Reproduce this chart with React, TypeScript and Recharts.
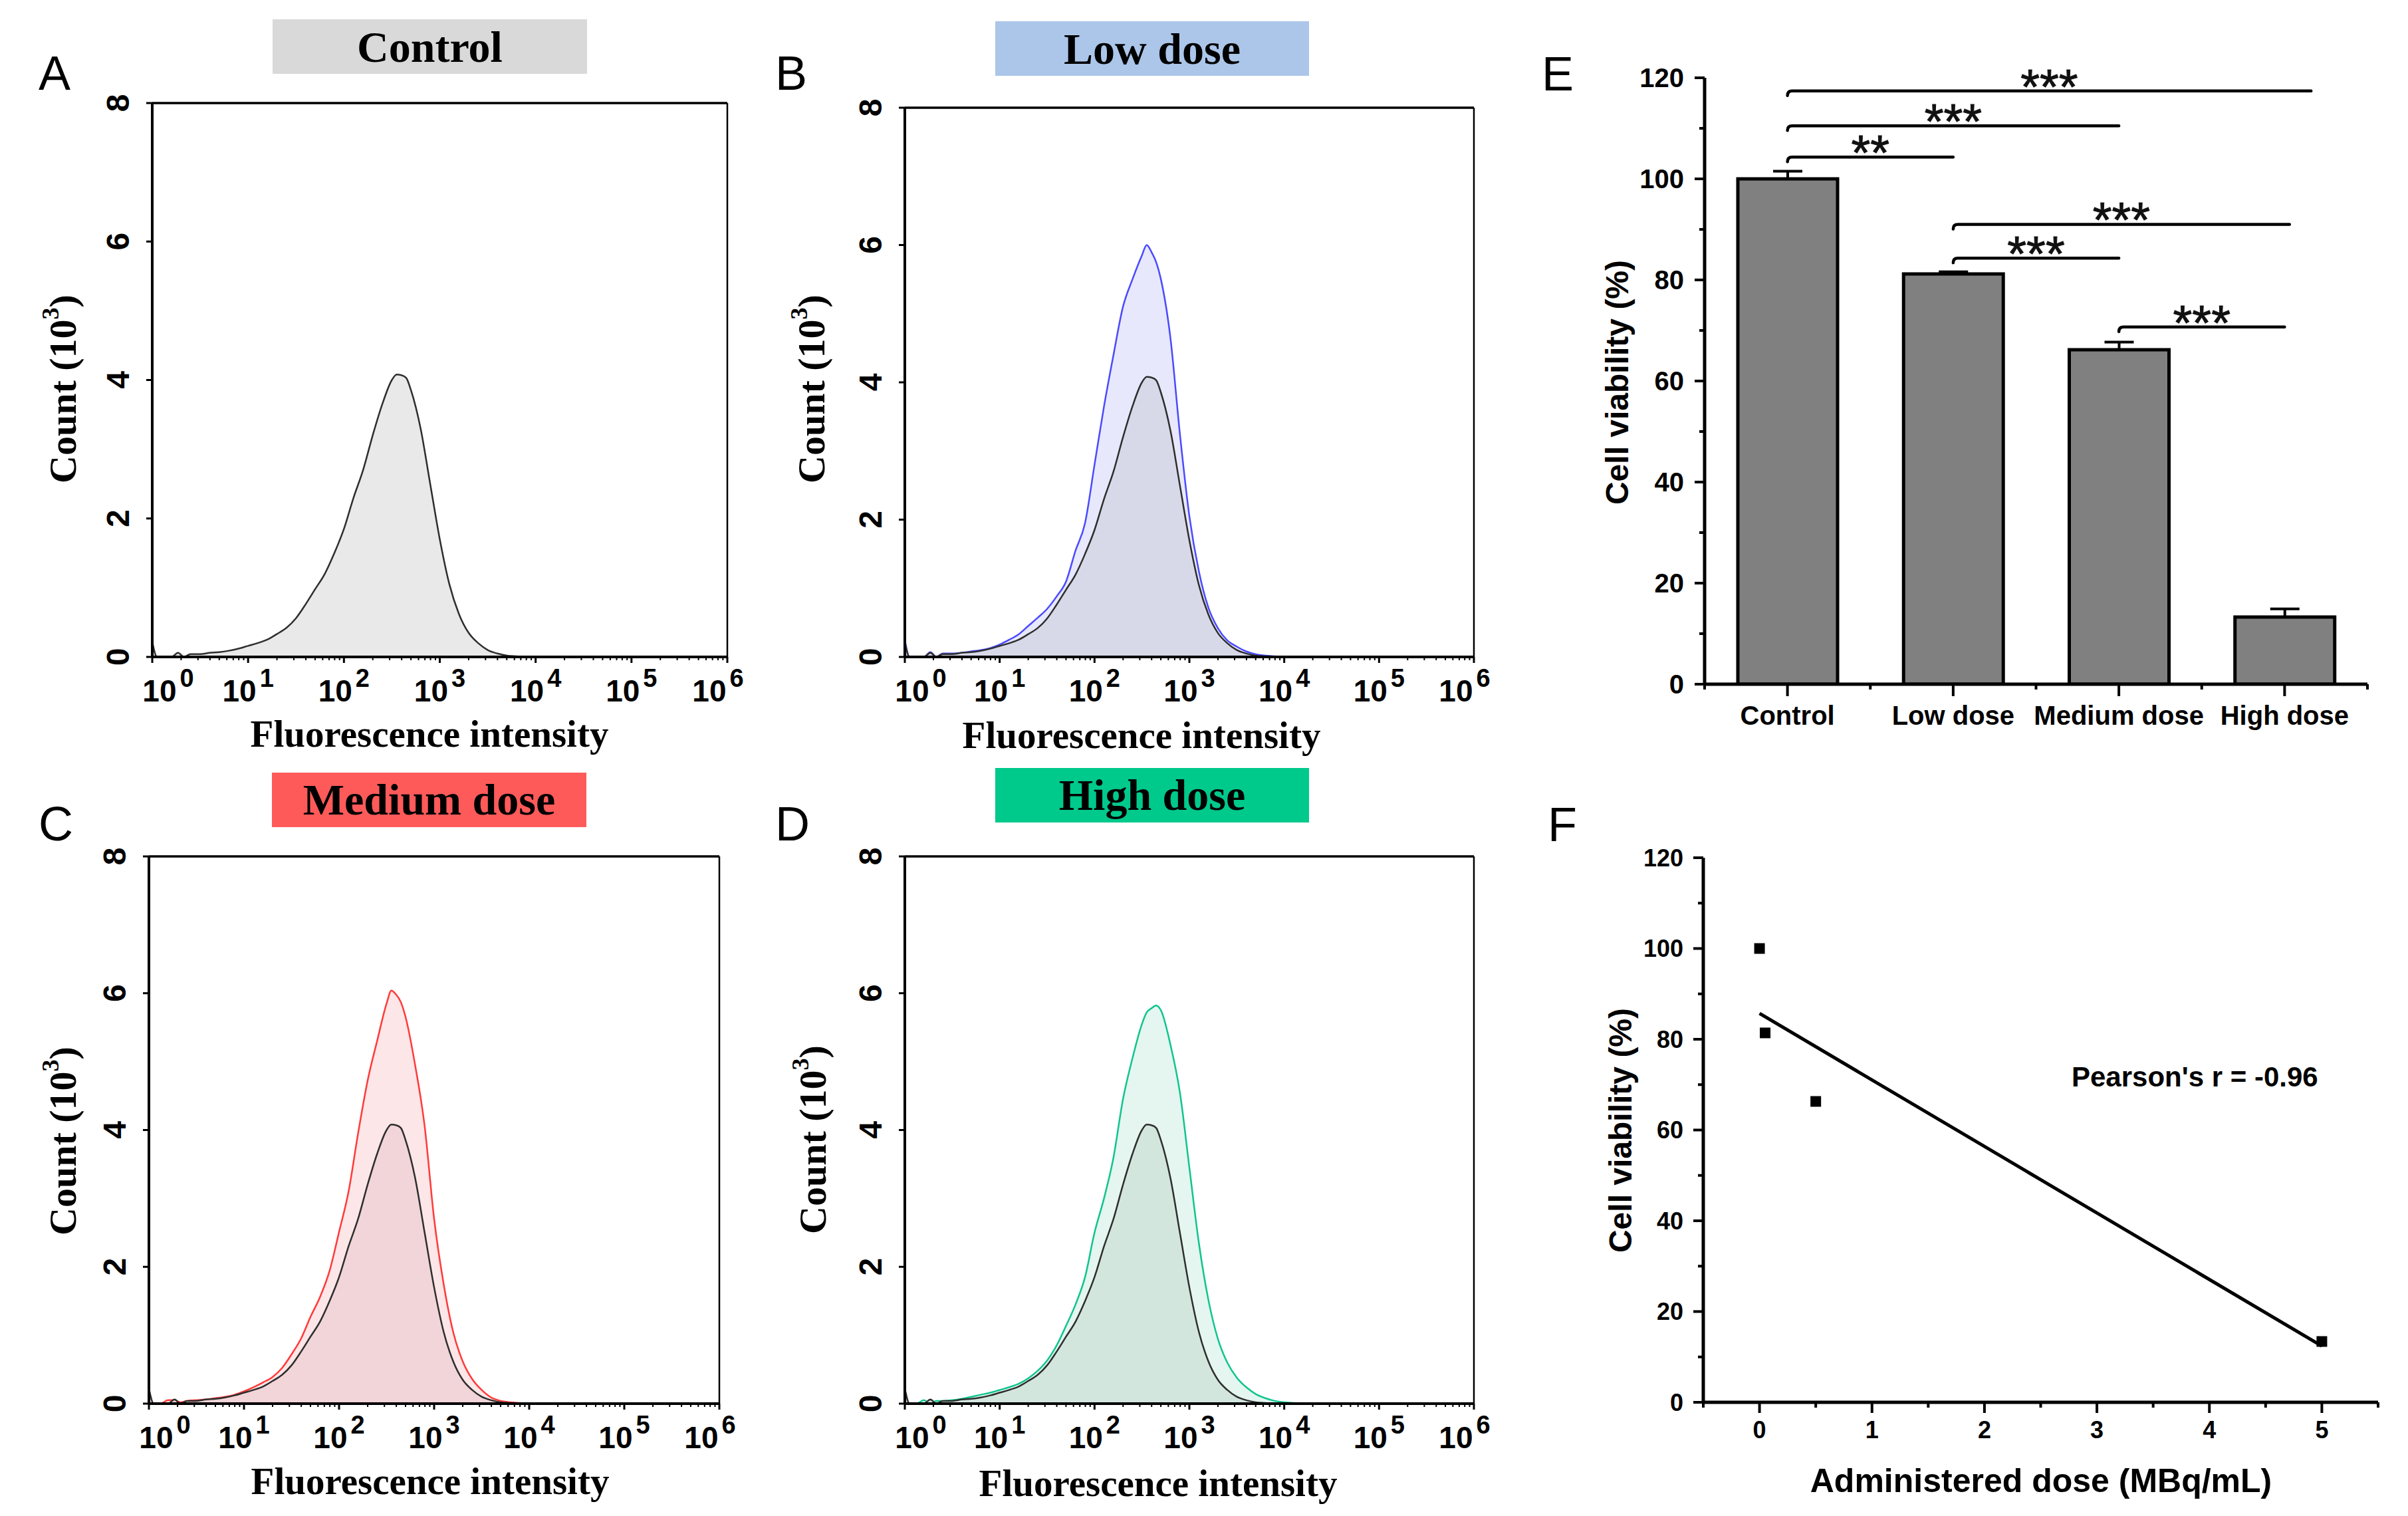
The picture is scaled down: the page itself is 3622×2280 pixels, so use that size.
import React from 'react';
import {
  ComposedChart,
  Area,
  XAxis,
  YAxis,
  ReferenceLine,
  Bar,
  ErrorBar,
  ScatterChart,
  Scatter,
} from 'recharts';

const SANS = '"Liberation Sans", Arial, Helvetica, sans-serif';
const SERIF = '"Liberation Serif", "Times New Roman", Times, serif';

// ---------- Flow cytometry histograms (x = log10 fluorescence intensity, y = count x10^3)
const logIntensity = [0, 0.05, 0.12, 0.2, 0.27, 0.33, 0.4, 0.5, 0.6, 0.7, 0.8, 0.9, 1.0, 1.1, 1.2, 1.3, 1.4, 1.5, 1.6, 1.7, 1.8, 1.9, 2.0, 2.1, 2.2, 2.3, 2.4, 2.5, 2.55, 2.6, 2.65, 2.7, 2.8, 2.9, 3.0, 3.1, 3.2, 3.3, 3.4, 3.5, 3.6, 3.7, 3.8, 3.9, 4.0, 4.2, 5.0, 6.0];
const controlCount = [0.22, 0, 0, 0, 0.06, 0, 0.04, 0.04, 0.06, 0.07, 0.09, 0.12, 0.16, 0.2, 0.25, 0.33, 0.42, 0.56, 0.76, 0.98, 1.2, 1.5, 1.85, 2.3, 2.7, 3.2, 3.65, 4.0, 4.08, 4.07, 4.03, 3.85, 3.3, 2.5, 1.7, 1.05, 0.62, 0.35, 0.2, 0.1, 0.05, 0.02, 0.01, 0, 0, 0, 0, 0];
const lowDoseCount = [0.25, 0, 0, 0, 0.07, 0, 0.05, 0.05, 0.06, 0.08, 0.1, 0.13, 0.18, 0.25, 0.33, 0.45, 0.57, 0.7, 0.88, 1.1, 1.55, 1.95, 2.8, 3.65, 4.4, 5.1, 5.5, 5.85, 6.0, 5.9, 5.75, 5.5, 4.65, 3.25, 2.05, 1.25, 0.72, 0.42, 0.24, 0.15, 0.08, 0.04, 0.02, 0.01, 0, 0, 0, 0];
const mediumDoseCount = [0.2, 0, 0, 0.05, 0.05, 0.02, 0.04, 0.05, 0.06, 0.08, 0.1, 0.13, 0.18, 0.24, 0.31, 0.39, 0.52, 0.72, 0.95, 1.27, 1.56, 1.94, 2.51, 3.1, 3.95, 4.72, 5.3, 5.85, 6.04, 5.98, 5.87, 5.65, 4.95, 4.06, 2.7, 1.75, 1.05, 0.62, 0.36, 0.2, 0.09, 0.04, 0.02, 0.01, 0, 0, 0, 0];
const highDoseCount = [0.2, 0, 0, 0.05, 0, 0.04, 0.04, 0.05, 0.07, 0.1, 0.13, 0.16, 0.2, 0.24, 0.29, 0.37, 0.48, 0.63, 0.85, 1.14, 1.45, 1.85, 2.5, 3.0, 3.6, 4.45, 5.05, 5.55, 5.72, 5.78, 5.82, 5.75, 5.25, 4.55, 3.45, 2.35, 1.52, 0.95, 0.6, 0.38, 0.24, 0.14, 0.08, 0.04, 0.02, 0.005, 0, 0];
const decadeTicks = [0, 1, 2, 3, 4, 5, 6];
const minorMultipliers = [2, 3, 4, 5, 6, 7, 8, 9];
const countTicks = [0, 2, 4, 6, 8];

// ---------- Cell viability (E)
const doseGroups = ['Control', 'Low dose', 'Medium dose', 'High dose'];
const groupPos = [0, 1, 2, 3];
const viability = [100, 81.2, 66.2, 13.3];
const viabilityErr = [1.5, 0.4, 1.5, 1.6];
const viabilityTicks = [0, 10, 20, 30, 40, 50, 60, 70, 80, 90, 100, 110, 120];
const groupTicks = [-0.5, 0, 0.5, 1, 1.5, 2, 2.5, 3, 3.5];
const bracketFrom = [0, 0, 0, 1, 1, 2];
const bracketTo = [1, 2, 3.16, 3.03, 2, 3];
const bracketY = [104.3, 110.5, 117.4, 91.0, 84.3, 70.7];
const bracketStars = ['**', '***', '***', '***', '***', '***'];

// ---------- Correlation (F)
const doseMBq = [0, 0.05, 0.5, 5];
const viabilityByDose = [100, 81.4, 66.3, 13.4];
const fitDose = [0, 5];
const fitViability = [85.7, 12.4];
const doseTicks = [-0.5, 0, 0.5, 1, 1.5, 2, 2.5, 3, 3.5, 4, 4.5, 5, 5.5];

const logTicks = [
  ...decadeTicks,
  ...decadeTicks.slice(0, 6).flatMap((d) => minorMultipliers.map((k) => d + Math.log10(k))),
].sort((a, b) => a - b);

function LogTick(props: any) {
  const { x, y, payload } = props;
  const v = payload.value as number;
  const major = Math.abs(v - Math.round(v)) < 1e-6;
  const shift = Math.round(v) === 0 ? 24 : Math.round(v) === 6 ? -14 : 0;
  return (
    <g>
      <line x1={x} x2={x} y1={y} y2={y + (major ? 9 : 5)} stroke="#000" strokeWidth={major ? 3 : 2} />
      {major && (
        <text x={x + shift} y={y + 67} textAnchor="middle" fontFamily={SANS} fontWeight="bold" fontSize={46} fill="#000">
          <tspan>10</tspan>
          <tspan dx={5} dy={-22} fontSize={38}>{Math.round(v)}</tspan>
        </text>
      )}
    </g>
  );
}

function RotTick(props: any) {
  const { x, y, payload } = props;
  const cx = x - 52;
  return (
    <g>
      <line x1={x - 9} x2={x} y1={y} y2={y} stroke="#000" strokeWidth={3} />
      <text
        x={cx}
        y={y}
        transform={`rotate(-90 ${cx} ${y})`}
        textAnchor="middle"
        dominantBaseline="central"
        fontFamily={SANS}
        fontWeight="bold"
        fontSize={48}
        fill="#000"
      >
        {payload.value}
      </text>
    </g>
  );
}

const HL = 100, HR = 50, HT = 20, HB = 100;

function Histogram(props: {
  L: number; T: number; R: number; B: number;
  treated: number[] | null; lineColor: string; fill: string; controlFill: string;
}) {
  const { L, T, R, B, treated, lineColor, fill, controlFill } = props;
  const rows = logIntensity.map((x, i) => ({
    x,
    control: controlCount[i],
    treated: treated ? treated[i] : null,
  }));
  return (
    <div style={{ position: 'absolute', left: L - HL, top: T - HT }}>
      <ComposedChart
        width={R - L + HL + HR}
        height={B - T + HT + HB}
        data={rows}
        margin={{ top: HT, right: HR, bottom: 0, left: 0 }}
      >
        <XAxis
          type="number"
          dataKey="x"
          domain={[0, 6]}
          allowDataOverflow
          ticks={logTicks}
          interval={0}
          height={HB}
          tickLine={false}
          tickSize={0}
          tickMargin={0}
          axisLine={{ stroke: '#000', strokeWidth: 4 }}
          tick={<LogTick />}
        />
        <YAxis
          type="number"
          domain={[0, 8]}
          allowDataOverflow
          ticks={countTicks}
          interval={0}
          width={HL}
          tickLine={false}
          tickSize={0}
          tickMargin={0}
          axisLine={{ stroke: '#000', strokeWidth: 4 }}
          tick={<RotTick />}
        />
        {treated && (
          <Area
            dataKey="treated"
            type="monotone"
            stroke={lineColor}
            strokeWidth={2.5}
            fill={fill}
            fillOpacity={1}
            dot={false}
            activeDot={false}
            isAnimationActive={false}
          />
        )}
        <Area
          dataKey="control"
          type="monotone"
          stroke="#2e2e2e"
          strokeWidth={2.5}
          fill={controlFill}
          fillOpacity={1}
          dot={false}
          activeDot={false}
          isAnimationActive={false}
        />
        <ReferenceLine y={8} stroke="#000" strokeWidth={3.5} />
        <ReferenceLine x={6} stroke="#000" strokeWidth={2.5} />
      </ComposedChart>
    </div>
  );
}

// ---------- E
const EL = 170, ER = 60, ET = 40, EB = 110;
const E_PLOT = { L: 2564, R: 3561, T: 117, B: 1029 };

function EYTick(props: any) {
  const { x, y, payload } = props;
  const v = payload.value as number;
  const major = v % 20 === 0;
  return (
    <g>
      <line x1={x - (major ? 15 : 8)} x2={x} y1={y} y2={y} stroke="#000" strokeWidth={4} />
      {major && (
        <text x={x - 31} y={y} textAnchor="end" dominantBaseline="central" fontFamily={SANS} fontWeight="bold" fontSize={40} fill="#000">
          {v}
        </text>
      )}
    </g>
  );
}

function GroupTick(props: any) {
  const { x, y, payload } = props;
  const v = payload.value as number;
  const major = Math.abs(v - Math.round(v)) < 1e-6;
  return (
    <g>
      <line x1={x} x2={x} y1={y} y2={y + (major ? 18 : 8)} stroke="#000" strokeWidth={4} />
      {major && (
        <text x={x} y={y + 61} textAnchor="middle" fontFamily={SANS} fontWeight="bold" fontSize={40} fill="#000">
          {doseGroups[Math.round(v)]}
        </text>
      )}
    </g>
  );
}

function makeBracket(stars: string) {
  return (p: any) => {
    const x1 = Math.min(p.x1, p.x2);
    const x2 = Math.max(p.x1, p.x2);
    const y = p.y1;
    return (
      <g>
        <path
          d={`M ${x1} ${y + 7} Q ${x1} ${y} ${x1 + 7} ${y} L ${x2} ${y}`}
          stroke="#000"
          strokeWidth={4.5}
          fill="none"
          strokeLinecap="round"
        />
        <text x={(x1 + x2) / 2} y={y + 19} textAnchor="middle" fontFamily={SANS} fontSize={74} fill="#111" stroke="#111" strokeWidth={1}>
          {stars}
        </text>
      </g>
    );
  };
}

function ViabilityBars() {
  const rows = doseGroups.map((name, i) => ({
    name,
    pos: groupPos[i],
    value: viability[i],
    err: [0, viabilityErr[i]],
  }));
  const { L, R, T, B } = E_PLOT;
  return (
    <div style={{ position: 'absolute', left: L - EL, top: T - ET }}>
      <ComposedChart
        width={R - L + EL + ER}
        height={B - T + ET + EB}
        data={rows}
        margin={{ top: ET, right: ER, bottom: 0, left: 0 }}
      >
        <XAxis xAxisId="cat" dataKey="name" type="category" hide height={0} />
        <XAxis
          xAxisId="num"
          dataKey="pos"
          type="number"
          domain={[-0.5, 3.5]}
          allowDataOverflow
          ticks={groupTicks}
          interval={0}
          height={EB}
          tickLine={false}
          tickSize={0}
          tickMargin={0}
          axisLine={{ stroke: '#000', strokeWidth: 5 }}
          tick={<GroupTick />}
        />
        <YAxis
          type="number"
          domain={[0, 120]}
          allowDataOverflow
          ticks={viabilityTicks}
          interval={0}
          width={EL}
          tickLine={false}
          tickSize={0}
          tickMargin={0}
          axisLine={{ stroke: '#000', strokeWidth: 5 }}
          tick={<EYTick />}
        />
        <Bar xAxisId="cat" dataKey="value" barSize={150} fill="#808080" stroke="#000" strokeWidth={5} isAnimationActive={false}>
          <ErrorBar dataKey="err" width={22} strokeWidth={4} stroke="#000" direction="y" />
        </Bar>
        {bracketFrom.map((f, i) => (
          <ReferenceLine
            key={i}
            xAxisId="num"
            ifOverflow="visible"
            segment={[
              { x: f, y: bracketY[i] },
              { x: bracketTo[i], y: bracketY[i] },
            ]}
            shape={makeBracket(bracketStars[i])}
          />
        ))}
      </ComposedChart>
    </div>
  );
}

// ---------- F
const FL = 170, FR = 40, FT = 30, FB = 150;
const F_PLOT = { L: 2562, R: 3577, T: 1290, B: 2109 };

function FXTick(props: any) {
  const { x, y, payload } = props;
  const v = payload.value as number;
  const major = Math.abs(v - Math.round(v)) < 1e-6;
  return (
    <g>
      <line x1={x} x2={x} y1={y} y2={y + (major ? 16 : 8)} stroke="#000" strokeWidth={4} />
      {major && (
        <text x={x} y={y + 54} textAnchor="middle" fontFamily={SANS} fontWeight="bold" fontSize={36} fill="#000">
          {Math.round(v)}
        </text>
      )}
    </g>
  );
}

function FYTick(props: any) {
  const { x, y, payload } = props;
  const v = payload.value as number;
  const major = v % 20 === 0;
  return (
    <g>
      <line x1={x - (major ? 15 : 8)} x2={x} y1={y} y2={y} stroke="#000" strokeWidth={4} />
      {major && (
        <text x={x - 30} y={y} textAnchor="end" dominantBaseline="central" fontFamily={SANS} fontWeight="bold" fontSize={36} fill="#000">
          {v}
        </text>
      )}
    </g>
  );
}

function SquareDot(p: any) {
  return <rect x={p.cx - 8} y={p.cy - 8} width={16} height={16} fill="#000" />;
}

function Correlation() {
  const pts = doseMBq.map((x, i) => ({ x, y: viabilityByDose[i] }));
  const fit = fitDose.map((x, i) => ({ x, y: fitViability[i] }));
  const { L, R, T, B } = F_PLOT;
  return (
    <div style={{ position: 'absolute', left: L - FL, top: T - FT }}>
      <ScatterChart
        width={R - L + FL + FR}
        height={B - T + FT + FB}
        margin={{ top: FT, right: FR, bottom: 0, left: 0 }}
      >
        <XAxis
          type="number"
          dataKey="x"
          domain={[-0.5, 5.5]}
          allowDataOverflow
          ticks={doseTicks}
          interval={0}
          height={FB}
          tickLine={false}
          tickSize={0}
          tickMargin={0}
          axisLine={{ stroke: '#000', strokeWidth: 5 }}
          tick={<FXTick />}
        />
        <YAxis
          type="number"
          dataKey="y"
          domain={[0, 120]}
          allowDataOverflow
          ticks={viabilityTicks}
          interval={0}
          width={FL}
          tickLine={false}
          tickSize={0}
          tickMargin={0}
          axisLine={{ stroke: '#000', strokeWidth: 5 }}
          tick={<FYTick />}
        />
        <Scatter
          data={fit}
          line={{ stroke: '#000', strokeWidth: 5 }}
          shape={() => <g />}
          isAnimationActive={false}
        />
        <Scatter data={pts} shape={<SquareDot />} isAnimationActive={false} />
      </ScatterChart>
    </div>
  );
}

function TitleBox(p: { x: number; y: number; w: number; h: number; color: string; text: string; base: number }) {
  return (
    <g>
      <rect x={p.x} y={p.y} width={p.w} height={p.h} fill={p.color} />
      <text x={p.x + p.w / 2} y={p.base} textAnchor="middle" fontFamily={SERIF} fontWeight="bold" fontSize={66} fill="#000">
        {p.text}
      </text>
    </g>
  );
}

function CountLabel(p: { x: number; y: number }) {
  return (
    <text
      transform={`translate(${p.x} ${p.y}) rotate(-90)`}
      textAnchor="middle"
      dominantBaseline="central"
      fontFamily={SERIF}
      fontWeight="bold"
      fontSize={58}
      fill="#000"
    >
      Count (10<tspan dy={-18} fontSize={36}>3</tspan><tspan dy={18}>)</tspan>
    </text>
  );
}

function FluoLabel(p: { x: number; y: number }) {
  return (
    <text x={p.x} y={p.y} textAnchor="middle" fontFamily={SERIF} fontWeight="bold" fontSize={57} fill="#000">
      Fluorescence intensity
    </text>
  );
}

function PanelLetter(p: { x: number; y: number; t: string }) {
  return (
    <text x={p.x} y={p.y} fontFamily={SANS} fontSize={72} fill="#000">
      {p.t}
    </text>
  );
}

export default function App() {
  return (
    <div style={{ position: 'absolute', left: 0, top: 0, width: 3622, height: 2280, background: '#fff', overflow: 'hidden' }}>
      <Histogram L={229} T={155} R={1094} B={988} treated={null} lineColor="#2e2e2e" fill="#e9e9e9" controlFill="#e9e9e9" />
      <Histogram L={1361} T={162} R={2217} B={988} treated={lowDoseCount} lineColor="#4a4aff" fill="#e8e8fc" controlFill="#d8d9e8" />
      <Histogram L={224} T={1288} R={1082} B={2111} treated={mediumDoseCount} lineColor="#ff3a3a" fill="#fde6e7" controlFill="#f1d5d8" />
      <Histogram L={1361} T={1288} R={2217} B={2111} treated={highDoseCount} lineColor="#10c48e" fill="#e4f6ef" controlFill="#d3e6dd" />
      <ViabilityBars />
      <Correlation />
      <svg style={{ position: 'absolute', left: 0, top: 0, pointerEvents: 'none' }} width={3622} height={2280}>
        <PanelLetter x={58} y={135} t="A" />
        <PanelLetter x={1166} y={135} t="B" />
        <PanelLetter x={58} y={1264} t="C" />
        <PanelLetter x={1166} y={1264} t="D" />
        <PanelLetter x={2319} y={136} t="E" />
        <PanelLetter x={2328} y={1265} t="F" />

        <TitleBox x={410} y={29} w={473} h={82} color="#d9d9d9" text="Control" base={93} />
        <TitleBox x={1497} y={32} w={472} h={82} color="#abc6e9" text="Low dose" base={96} />
        <TitleBox x={409} y={1162} w={473} h={82} color="#ff5a5a" text="Medium dose" base={1225} />
        <TitleBox x={1497} y={1155} w={472} h={82} color="#00c98c" text="High dose" base={1218} />

        <CountLabel x={94} y={585} />
        <CountLabel x={1220} y={585} />
        <CountLabel x={94} y={1716} />
        <CountLabel x={1222} y={1714} />

        <FluoLabel x={646} y={1123} />
        <FluoLabel x={1717} y={1125} />
        <FluoLabel x={647} y={2247} />
        <FluoLabel x={1742} y={2250} />

        <text transform="translate(2432 575) rotate(-90)" textAnchor="middle" dominantBaseline="central" fontFamily={SANS} fontWeight="bold" fontSize={48} fill="#000">
          Cell viability (%)
        </text>
        <text transform="translate(2437 1700) rotate(-90)" textAnchor="middle" dominantBaseline="central" fontFamily={SANS} fontWeight="bold" fontSize={48} fill="#000">
          Cell viability (%)
        </text>
        <text x={3070} y={2244} textAnchor="middle" fontFamily={SANS} fontWeight="bold" fontSize={50} fill="#000">
          Administered dose (MBq/mL)
        </text>
        <text x={3116} y={1634} fontFamily={SANS} fontWeight="bold" fontSize={42} fill="#000">
          Pearson's r = -0.96
        </text>
      </svg>
    </div>
  );
}
